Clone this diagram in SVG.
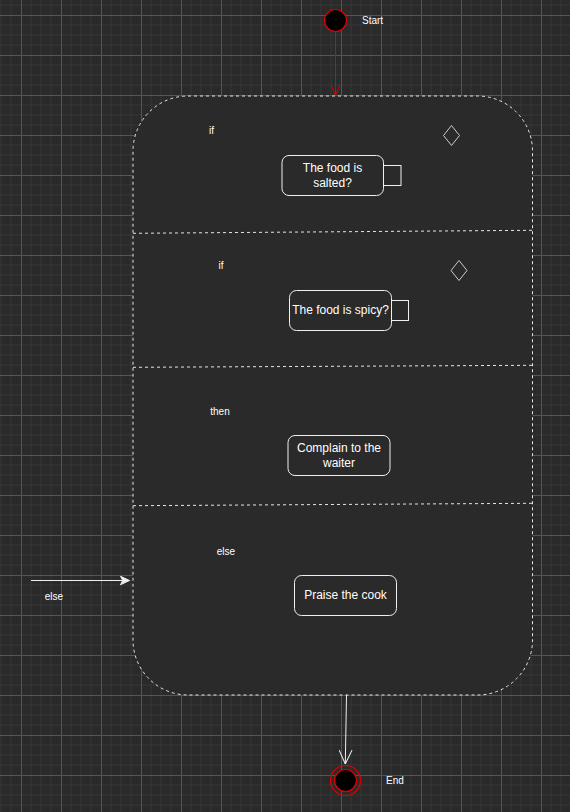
<svg xmlns="http://www.w3.org/2000/svg" width="570" height="812" viewBox="0 0 570 812">
<defs>
<pattern id="grid" patternUnits="userSpaceOnUse" x="21" y="15" width="40" height="40">
<rect width="40" height="40" fill="#2a2a2a"/>
<path d="M10 0V40M20 0V40M30 0V40M0 10H40M0 20H40M0 30H40" stroke="#353535" stroke-width="1" fill="none"/>
<path d="M0.5 0V40M0 0.5H40" stroke="#555" stroke-width="1" fill="none"/>
</pattern>
<marker id="openRed" viewBox="0 0 10 10" refX="10" refY="5" markerWidth="10" markerHeight="10" markerUnits="userSpaceOnUse" orient="auto">
<path d="M0 0.5L10 5L0 9.5" fill="none" stroke="#e00000" stroke-width="1"/>
</marker>
<marker id="openWhite" viewBox="0 0 14 14" refX="14" refY="7" markerWidth="14" markerHeight="14" markerUnits="userSpaceOnUse" orient="auto">
<path d="M0 0.5L14 7L0 13.5" fill="none" stroke="#f0f0f0" stroke-width="1"/>
</marker>
<marker id="blockWhite" viewBox="0 0 10 10" refX="9.5" refY="5" markerWidth="10" markerHeight="10" markerUnits="userSpaceOnUse" orient="auto">
<path d="M9.5 5L0.5 0.8L2.8 5L0.5 9.2Z" fill="#f0f0f0" stroke="#f0f0f0" stroke-width="1"/>
</marker>
</defs>
<style>
.lbl{font-family:"Liberation Sans",Arial,sans-serif;font-size:10px;fill:#ffffff}
.txt{font-family:"Liberation Sans",Arial,sans-serif;font-size:12px;fill:#ffffff;text-anchor:middle}
.node{fill:#2a2a2a;stroke:#f0f0f0;stroke-width:1}
.sq{fill:none;stroke:#f0f0f0;stroke-width:1}
.dia{fill:none;stroke:#cccccc;stroke-width:1}
.dash{stroke:#e6e6e6;stroke-width:1;stroke-dasharray:3 3}
.box{fill:#2a2a2a}
</style>
<rect width="570" height="812" fill="url(#grid)"/>

<g id="container">
<rect x="133" y="96" width="399.5" height="599" rx="55" ry="55" class="dash box"/>
<line x1="133" y1="233.3" x2="532.5" y2="230.3" class="dash"/>
<line x1="133" y1="367.3" x2="532.5" y2="365.3" class="dash"/>
<line x1="133" y1="505.7" x2="532.5" y2="503.3" class="dash"/>
</g>

<g id="start">
<circle cx="335.5" cy="20.5" r="11" fill="#000000" stroke="#e00000" stroke-width="1.2"/>
<text x="362" y="24" class="lbl">Start</text>
</g>

<g id="lane1">
<text x="211.5" y="134" class="lbl" text-anchor="middle">if</text>
<path d="M451.5 125.5L459.5 135.5L451.5 145.5L443.5 135.5Z" class="dia"/>
</g>
<g id="salted">
<rect x="282" y="155.5" width="101.5" height="40" rx="7" class="node"/>
<rect x="383.5" y="165.5" width="17.5" height="20" class="sq"/>
<text x="332.5" y="172" class="txt">The food is</text>
<text x="332.5" y="187" class="txt">salted?</text>
</g>

<g id="lane2">
<text x="221" y="269" class="lbl" text-anchor="middle">if</text>
<path d="M459 260.5L467 270.5L459 280.5L451 270.5Z" class="dia"/>
</g>
<g id="spicy">
<rect x="289.5" y="290.5" width="102" height="40" rx="7" class="node"/>
<rect x="391.5" y="300.5" width="17" height="20" class="sq"/>
<text x="340.5" y="314.3" class="txt">The food is spicy?</text>
</g>

<g id="lane3">
<text x="220" y="414.5" class="lbl" text-anchor="middle">then</text>
</g>
<g id="complain">
<rect x="288" y="435.5" width="102" height="40" rx="7" class="node"/>
<text x="339" y="452" class="txt">Complain to the</text>
<text x="339" y="467" class="txt">waiter</text>
</g>

<g id="lane4">
<text x="226" y="554.5" class="lbl" text-anchor="middle">else</text>
</g>
<g id="praise">
<rect x="294.5" y="575.5" width="102" height="40" rx="7" class="node"/>
<text x="345.5" y="599" class="txt">Praise the cook</text>
</g>

<g id="end">
<circle cx="345.5" cy="780.5" r="15" fill="none" stroke="#e00000" stroke-width="1.2"/>
<circle cx="345.5" cy="780.5" r="11" fill="#000000" stroke="#e00000" stroke-width="1.2"/>
<text x="386" y="784" class="lbl">End</text>
</g>

<g id="connectors">
<line x1="335.5" y1="31.5" x2="335.5" y2="95" stroke="#e00000" stroke-width="1" marker-end="url(#openRed)"/>
<line x1="346.5" y1="695" x2="345.3" y2="764" stroke="#f0f0f0" stroke-width="1" marker-end="url(#openWhite)"/>
<line x1="31" y1="580.5" x2="129.5" y2="580.5" stroke="#f0f0f0" stroke-width="1.2" marker-end="url(#blockWhite)"/>
<text x="54" y="599.5" class="lbl" text-anchor="middle">else</text>
</g>
</svg>
